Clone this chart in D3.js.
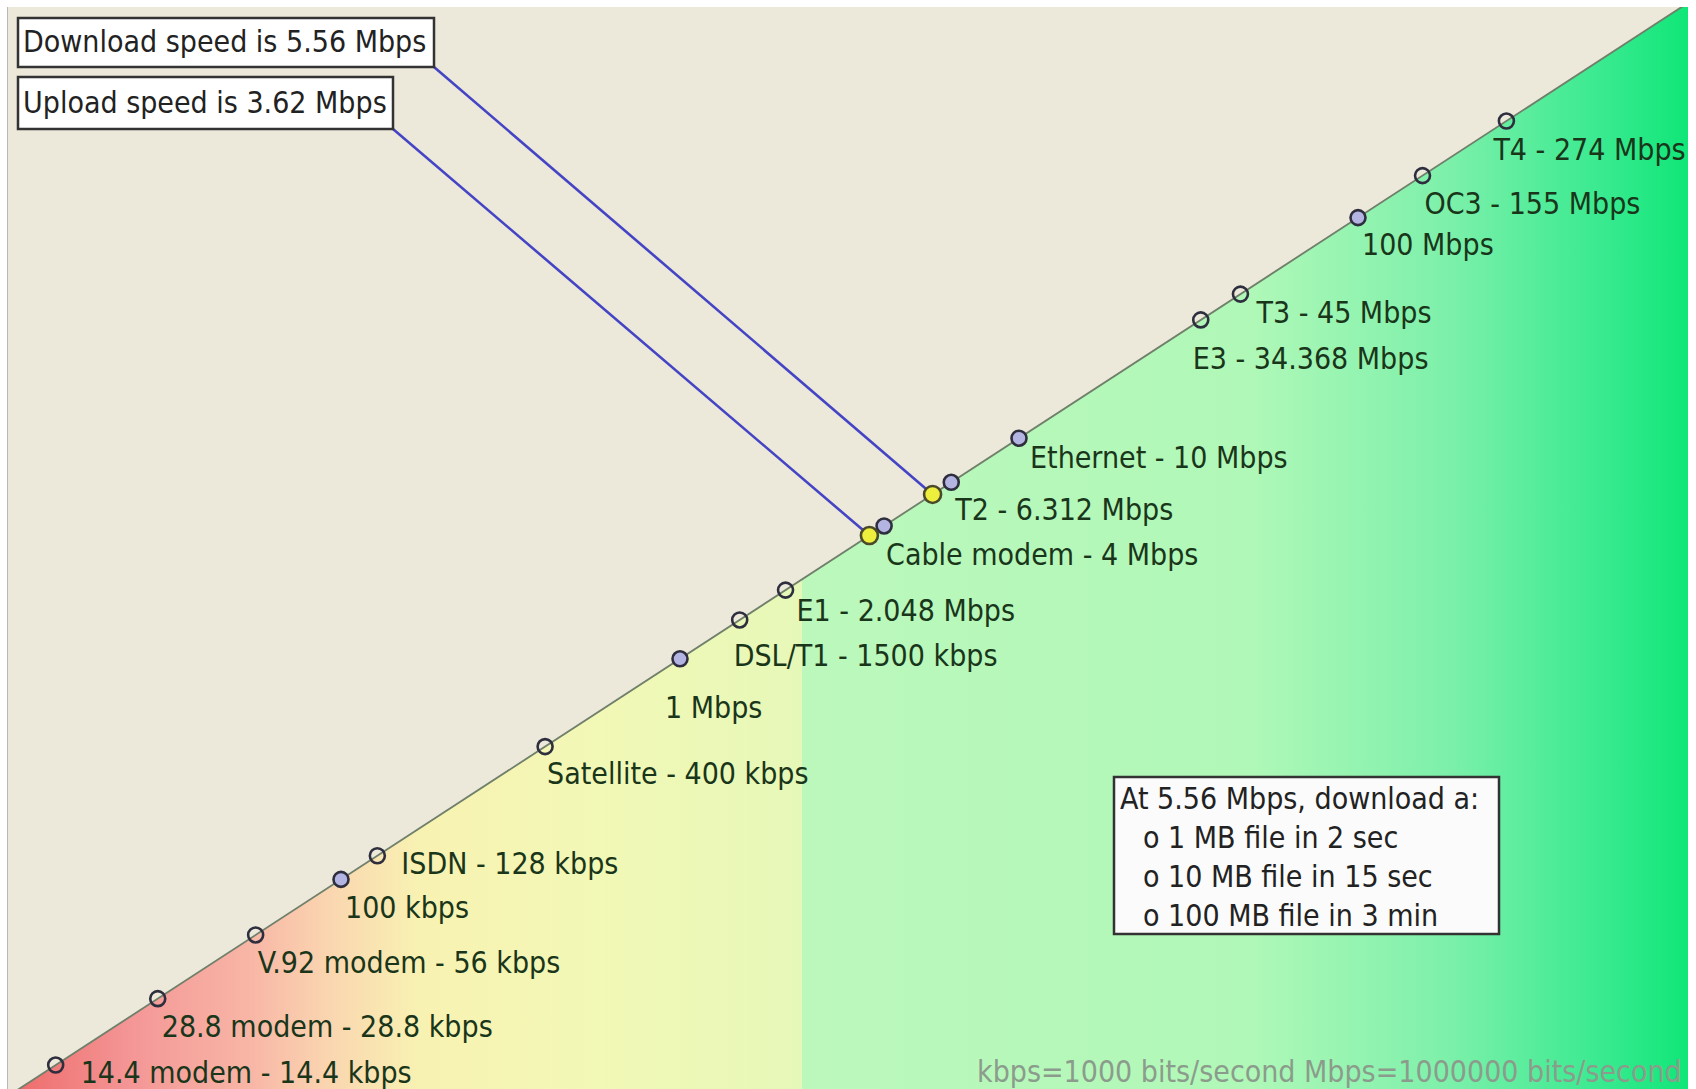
<!DOCTYPE html>
<html>
<head>
<meta charset="utf-8">
<script src="https://cdn.jsdelivr.net/npm/d3@7"></script>
<style>
  html, body { margin: 0; padding: 0; background: #ffffff; }
  svg { display: block; }
  text { font-family: "DejaVu Sans Condensed", "DejaVu Sans", sans-serif; }
</style>
</head>
<body>
<svg id="chart" width="1696" height="1089"></svg>
<script>
// ---------------- data ----------------
const speedLabels = [
  "14.4 modem - 14.4 kbps", "28.8 modem - 28.8 kbps", "V.92 modem - 56 kbps",
  "100 kbps", "ISDN - 128 kbps", "Satellite - 400 kbps", "1 Mbps",
  "DSL/T1 - 1500 kbps", "E1 - 2.048 Mbps", "Cable modem - 4 Mbps",
  "T2 - 6.312 Mbps", "Ethernet - 10 Mbps", "E3 - 34.368 Mbps",
  "T3 - 45 Mbps", "100 Mbps", "OC3 - 155 Mbps", "T4 - 274 Mbps"
];
const speedKbps = [14.4, 28.8, 56, 100, 128, 400, 1000, 1500, 2048, 4000,
                   6312, 10000, 34368, 45000, 100000, 155000, 274000];
const highlighted = ["100 kbps", "1 Mbps", "Cable modem - 4 Mbps",
                     "T2 - 6.312 Mbps", "Ethernet - 10 Mbps", "100 Mbps"];

const measuredNames = ["Download speed is 5.56 Mbps", "Upload speed is 3.62 Mbps"];
const measuredKbps = [5560, 3620];

const infoLines = ["At 5.56 Mbps, download a:", "o 1 MB file in 2 sec",
                   "o 10 MB file in 15 sec", "o 100 MB file in 3 min"];
const footnote = "kbps=1000 bits/second  Mbps=1000000 bits/second";

// -------------- layout (label placement relative to its point) --------------
const labelOffset = {
  "14.4 modem - 14.4 kbps": [25, 9], "28.8 modem - 28.8 kbps": [4, 30],
  "V.92 modem - 56 kbps": [2, 30], "100 kbps": [4, 30], "ISDN - 128 kbps": [24, 10],
  "Satellite - 400 kbps": [2, 29], "1 Mbps": [-15, 51], "DSL/T1 - 1500 kbps": [-6, 38],
  "E1 - 2.048 Mbps": [11, 22], "Cable modem - 4 Mbps": [2, 31],
  "T2 - 6.312 Mbps": [4, 29], "Ethernet - 10 Mbps": [11, 21],
  "E3 - 34.368 Mbps": [-8, 41], "T3 - 45 Mbps": [16, 20], "100 Mbps": [4, 29],
  "OC3 - 155 Mbps": [2, 30], "T4 - 274 Mbps": [-13, 30]
};

// ---------------- drawing ----------------
const W = 1696, H = 1089;
const panel = {x0: 7, y0: 7, x1: 1688, y1: 1089};
const svg = d3.select("#chart");

const x = d3.scaleLog().domain([10, 1e6]).range([2, 1697]);
const y = d3.scaleLog().domain([10, 1e6]).range([1100, -3]);

const defs = svg.append("defs");
defs.append("clipPath").attr("id", "clip")
  .append("rect").attr("x", panel.x0).attr("y", panel.y0)
  .attr("width", panel.x1 - panel.x0).attr("height", panel.y1 - panel.y0);

const grad = defs.append("linearGradient").attr("id", "bg")
  .attr("gradientUnits", "userSpaceOnUse")
  .attr("x1", panel.x0).attr("x2", panel.x1).attr("y1", 0).attr("y2", 0);
const stops = [
  [7, "#ee6868"], [130, "#f49696"], [250, "#f8b6a6"], [330, "#fad6b0"],
  [420, "#f8f2b2"], [600, "#f2f8b6"], [802, "#e6f8b8"], [802, "#bcf8bc"],
  [1250, "#b0f8b8"], [1450, "#7cf0aa"], [1600, "#3aea90"], [1688, "#10e678"]
];
stops.forEach(s => grad.append("stop")
  .attr("offset", (s[0] - panel.x0) / (panel.x1 - panel.x0)).attr("stop-color", s[1]));

const g = svg.append("g").attr("clip-path", "url(#clip)");

// gradient area (below the line)
g.append("rect").attr("x", panel.x0).attr("y", panel.y0)
  .attr("width", panel.x1 - panel.x0).attr("height", panel.y1 - panel.y0)
  .attr("fill", "url(#bg)");

// beige region above the diagonal
const lo = x.domain()[0], hi = x.domain()[1];
g.append("path")
  .attr("d", `M${x(lo)},${y(lo)} L${x(hi)},${y(hi)} L${panel.x0 - 5},${panel.y0 - 5} Z`)
  .attr("fill", "#ece9db");

// diagonal line
g.append("line")
  .attr("x1", x(lo)).attr("y1", y(lo)).attr("x2", x(hi)).attr("y2", y(hi))
  .attr("stroke", "#6f7f6a").attr("stroke-width", 1.8);

// left border
svg.append("line").attr("x1", panel.x0 + 0.5).attr("x2", panel.x0 + 0.5)
  .attr("y1", panel.y0).attr("y2", H).attr("stroke", "#b8b8b8").attr("stroke-width", 1);

// connector lines from the boxes to the measured points
const boxGeom = [
  {x: 18, y: 18, w: 416, h: 49},
  {x: 18, y: 77, w: 375, h: 52}
];
g.selectAll("line.conn").data(measuredKbps).join("line")
  .attr("class", "conn")
  .attr("x1", (d, i) => boxGeom[i].x + boxGeom[i].w)
  .attr("y1", (d, i) => boxGeom[i].y + boxGeom[i].h)
  .attr("x2", d => x(d)).attr("y2", d => y(d))
  .attr("stroke", "#4444c4").attr("stroke-width", 2.6);

// speed points
const pts = speedKbps.map((v, i) => ({v, label: speedLabels[i]}));
g.selectAll("circle.spd").data(pts).join("circle")
  .attr("class", "spd")
  .attr("cx", d => x(d.v)).attr("cy", d => y(d.v)).attr("r", 7.5)
  .attr("fill", d => highlighted.includes(d.label) ? "#b4b4e2" : "none")
  .attr("stroke", "#2e2e3e").attr("stroke-width", 2.6);

// measured points (yellow)
g.selectAll("circle.meas").data(measuredKbps).join("circle")
  .attr("class", "meas")
  .attr("cx", d => x(d)).attr("cy", d => y(d)).attr("r", 8.5)
  .attr("fill", "#eeee3c").attr("stroke", "#4a4a2a").attr("stroke-width", 2.6);

// labels
svg.selectAll("text.lbl").data(pts).join("text")
  .attr("class", "lbl")
  .attr("x", d => x(d.v) + labelOffset[d.label][0])
  .attr("y", d => y(d.v) + labelOffset[d.label][1])
  .attr("dominant-baseline", "middle")
  .attr("font-size", 30).attr("fill", "#1a361a")
  .text(d => d.label);

// measured-speed boxes
const boxes = svg.selectAll("g.mbox").data(measuredNames).join("g").attr("class", "mbox");
boxes.append("rect")
  .attr("x", (d, i) => boxGeom[i].x).attr("y", (d, i) => boxGeom[i].y)
  .attr("width", (d, i) => boxGeom[i].w).attr("height", (d, i) => boxGeom[i].h)
  .attr("fill", "#ffffff").attr("stroke", "#333333").attr("stroke-width", 2.5);
boxes.append("text")
  .attr("x", (d, i) => boxGeom[i].x + 5)
  .attr("y", (d, i) => boxGeom[i].y + boxGeom[i].h / 2 + 1)
  .attr("dominant-baseline", "middle")
  .attr("font-size", 30).attr("fill", "#222222")
  .text(d => d);

// info box
const info = svg.append("g");
info.append("rect").attr("x", 1114).attr("y", 777).attr("width", 385).attr("height", 157)
  .attr("fill", "#fbfbfb").attr("stroke", "#333333").attr("stroke-width", 2.5);
info.selectAll("text").data(infoLines).join("text")
  .attr("x", (d, i) => i === 0 ? 1120 : 1143)
  .attr("y", (d, i) => 800 + i * 39)
  .attr("dominant-baseline", "middle")
  .attr("font-size", 30).attr("fill", "#222222")
  .text(d => d);

// footnote
svg.append("text").attr("x", 977).attr("y", 1082)
  .attr("font-size", 30).attr("fill", "#8c9c8c")
  .text(footnote);
</script>
</body>
</html>
